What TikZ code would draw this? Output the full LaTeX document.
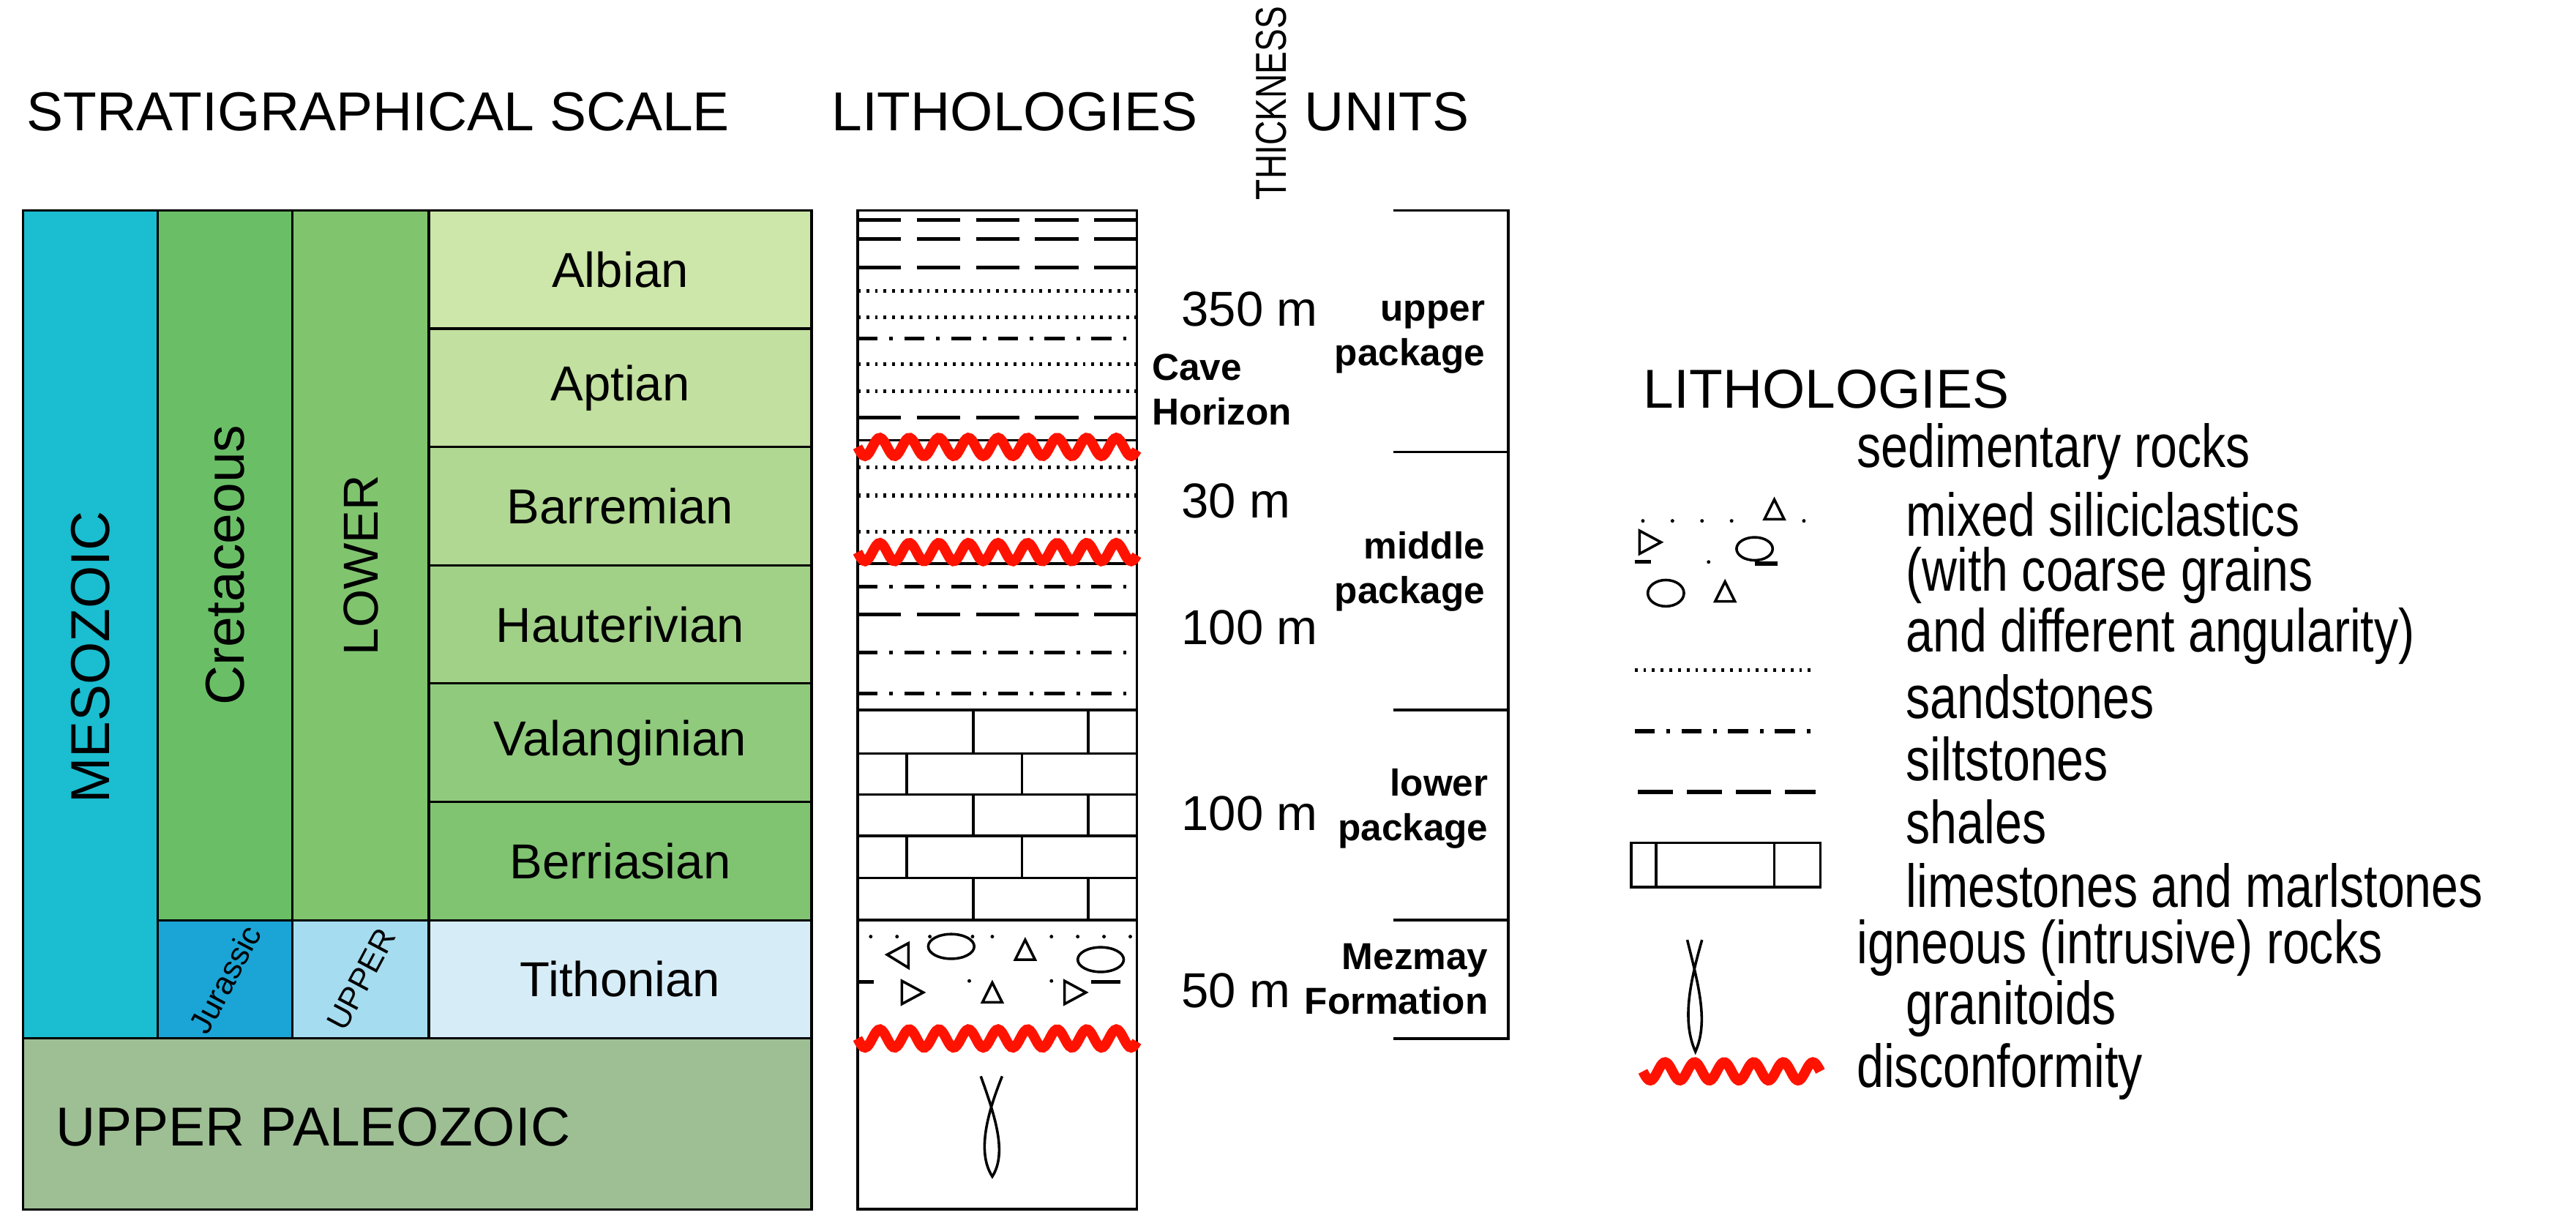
\documentclass[tikz,border=0pt]{standalone}
\usepackage{fontspec}
\setmainfont{Liberation Sans}
\begin{document}
\begin{tikzpicture}[x=0.02cm,y=-0.02cm,
  cell/.style={draw=black,line width=0.8pt},
  lbl/.style={font=\fontsize{17}{20}\selectfont},
  hdr/.style={font=\fontsize{19}{22}\selectfont},
  bld/.style={font=\bfseries\fontsize{13}{15.5}\selectfont,align=right},
  leg/.style={font=\fontsize{21}{24}\selectfont,anchor=west,xscale=0.8,inner sep=0},
  lin/.style={line width=0.9pt},
  shale/.style={line width=1.3pt,dash pattern=on 15pt off 5.5pt},
  sand/.style={line width=1.3pt,dash pattern=on 1pt off 2pt},
  silt/.style={line width=1.3pt,dash pattern=on 7pt off 4pt on 1.2pt off 4pt},
  disc/.style={draw=red!85!orange,line width=3.5pt},
]
\useasboundingbox (0,0) rectangle (1568,746);
\definecolor{cmeso}{HTML}{1BBDD0}
\definecolor{ccret}{HTML}{6ABF66}
\definecolor{clow}{HTML}{80C46E}
\definecolor{calb}{HTML}{CDE6A9}
\definecolor{capt}{HTML}{C2E09F}
\definecolor{cbar}{HTML}{B0D892}
\definecolor{chau}{HTML}{A1D087}
\definecolor{cval}{HTML}{90CA7D}
\definecolor{cber}{HTML}{80C472}
\definecolor{ctit}{HTML}{D6EDF8}
\definecolor{cjur}{HTML}{1BA4D6}
\definecolor{cupp}{HTML}{A6DCEF}
\definecolor{cpal}{HTML}{9EBF94}
% headers
\node[hdr,anchor=west] (h1) at (10,68) {STRATIGRAPHICAL SCALE};
\node[hdr,anchor=west] (h2) at (500,68) {LITHOLOGIES};
\node[hdr,anchor=west] (h3) at (788,68) {UNITS};
\node[rotate=90,anchor=west,inner sep=0,font=\fontsize{15}{17}\selectfont] (h4) at (774,122) {\scalebox{0.78}[1]{THICKNESS}};
% scale table
\draw[cell,fill=cmeso] (14,128) rectangle (96,632);
\node[hdr,rotate=90] (meso) at (55,400) {MESOZOIC};
\draw[cell,fill=ccret] (96,128) rectangle (178,560);
\node[hdr,rotate=90] (cret) at (137,344) {Cretaceous};
\draw[cell,fill=clow] (178,128) rectangle (261,560);
\node[lbl,rotate=90] (low) at (220,344) {LOWER};
\draw[cell,fill=cjur] (96,560) rectangle (178,632);
\node[rotate=62,inner sep=0,font=\fontsize{11}{13}\selectfont] (jur) at (137,596) {Jurassic};
\draw[cell,fill=cupp] (178,560) rectangle (261,632);
\node[rotate=62,inner sep=0,font=\fontsize{11}{13}\selectfont] (upp) at (220,596) {UPPER};
\foreach \n/\c/\t [count=\i from 0] in {alb/calb/Albian,apt/capt/Aptian,bar/cbar/Barremian,hau/chau/Hauterivian,val/cval/Valanginian,ber/cber/Berriasian,tit/ctit/Tithonian}{
  \draw[cell,fill=\c] (261,128+72*\i) rectangle (494,200+72*\i);
  \node[lbl] (\n) at (377.5,164+72*\i) {\t};
}
\draw[cell,fill=cpal] (14,632) rectangle (494,736);
\node[hdr,anchor=west] (pal) at (28,686) {UPPER PALEOZOIC};
% lithology column
\draw[lin] (522,128) rectangle (692,736);
\foreach \y in {134,145.6,163,254} \draw[shale] (522,\y) -- (692,\y);
\foreach \y in {177,193,221.5,238,284.5,301.6,323.5} \draw[sand] (522,\y) -- (692,\y);
\foreach \y in {206,357,397,422} \draw[silt] (522,\y) -- (692,\y);
\draw[shale] (522,374) -- (692,374);
\draw[lin] (522,268) -- (692,268);
\draw[lin] (522,343) -- (692,343);
% bricks
\foreach \y in {432,458.6,483.6,508.6,534.4,560} \draw[lin] (522,\y) -- (692,\y);
\foreach \a/\b in {432/458.6,483.6/508.6,534.4/560} {\draw[lin] (592.5,\a)--(592.5,\b); \draw[lin] (662.4,\a)--(662.4,\b);}
\foreach \a/\b in {458.6/483.6,508.6/534.4} {\draw[lin] (552,\a)--(552,\b); \draw[lin] (622,\a)--(622,\b);}
% mixed siliciclastics in column
\foreach \x in {530,546,566,592,604,640,656,672,688} \fill (\x,570) circle (1.1);
\draw[lin] (553,574) -- (540,581) -- (553,589) -- cycle;
\draw[lin] (579,576) ellipse (14 and 7.5);
\draw[lin] (618,584) -- (624,572) -- (630,584) -- cycle;
\draw[lin] (670,584) ellipse (14 and 7.5);
\draw[line width=1.3pt] (522,597.6) -- (532,597.6);
\draw[lin] (549,597) -- (562,604) -- (549,611) -- cycle;
\draw[lin] (598,610) -- (604,598) -- (610,610) -- cycle;
\draw[lin] (648,597) -- (661,604) -- (648,611) -- cycle;
\draw[line width=1.3pt] (664,597.6) -- (682,597.6);
\fill (590,597) circle (1.1); \fill (640,597) circle (1.1);
% granitoid
\draw[lin] (597,655) .. controls (606,680) and (613,702) .. (604,716) .. controls (595,702) and (600,680) .. (610,655);
% disconformities
\foreach \y in {272,336,632} \draw[disc] plot[domain=0:170,samples=150] ({522+\x},{\y+5.5*sin(\x*20)});
% thickness labels
\node[lbl,anchor=west] (t1) at (713,188) {350 m};
\node[bld,anchor=west,align=left] (cave) at (695,237) {Cave\\Horizon};
\node[lbl,anchor=west] (t2) at (713,305) {30 m};
\node[lbl,anchor=west] (t3) at (713,382) {100 m};
\node[lbl,anchor=west] (t4) at (713,495) {100 m};
\node[lbl,anchor=west] (t5) at (713,603) {50 m};
% units bracket
\draw[lin] (848,128) -- (918,128) -- (918,632) -- (848,632);
\foreach \y in {275,432,560} \draw[lin] (848,\y) -- (918,\y);
\node[bld,anchor=east] (u1) at (910,205) {upper\\package};
\node[bld,anchor=east] (u2) at (910,348) {middle\\package};
\node[bld,anchor=east] (u3) at (912,492) {lower\\package};
\node[bld,anchor=east] (u4) at (912,596) {Mezmay\\Formation};
% legend
\node[hdr,anchor=west,inner sep=0] (lt) at (1000,237) {LITHOLOGIES};
\node[leg] (l1) at (1130,275) {sedimentary rocks};
\node[leg] (l2) at (1160,313) {mixed siliciclastics};
\node[leg] (l3) at (1160,350) {(with coarse grains};
\node[leg] (l4) at (1160,387) {and different angularity)};
\node[leg] (l5) at (1160,424) {sandstones};
\node[leg] (l6) at (1160,462) {siltstones};
\node[leg] (l7) at (1160,500) {shales};
\node[leg] (l8) at (1160,539) {limestones and marlstones};
\node[leg] (l9) at (1130,577) {igneous (intrusive) rocks};
\node[leg] (l10) at (1160,614) {granitoids};
\node[leg] (l11) at (1130,652) {disconformity};
% legend symbols
\foreach \x in {1000,1018,1036,1054,1098} \fill (\x,317) circle (1.1);
\draw[lin] (1074,316) -- (1080,304) -- (1086,316) -- cycle;
\draw[lin] (998,323) -- (1011,330) -- (998,337) -- cycle;
\draw[line width=1.3pt] (995,342) -- (1005,342);
\fill (1040,342) circle (1.1);
\draw[lin] (1068,334) ellipse (11 and 7);
\draw[line width=1.3pt] (1068,343) -- (1082,343);
\draw[lin] (1014,361) ellipse (11 and 8);
\draw[lin] (1044,366) -- (1050,354) -- (1056,366) -- cycle;
\draw[sand] (995,408) -- (1105,408);
\draw[silt] (995,445) -- (1105,445);
\draw[shale,dash pattern=on 12pt off 5pt] (997,482) -- (1105,482);
\draw[lin] (993,513) rectangle (1108,540);
\draw[lin] (1008,513) -- (1008,540); \draw[lin] (1080,513) -- (1080,540);
\draw[lin] (1027,572) .. controls (1034,600) and (1040,622) .. (1032,640) .. controls (1024,622) and (1028,600) .. (1036,572);
\draw[disc] plot[domain=0:108,samples=120] ({1000+\x},{652+5.5*sin(\x*20)});
\end{tikzpicture}
\end{document}
